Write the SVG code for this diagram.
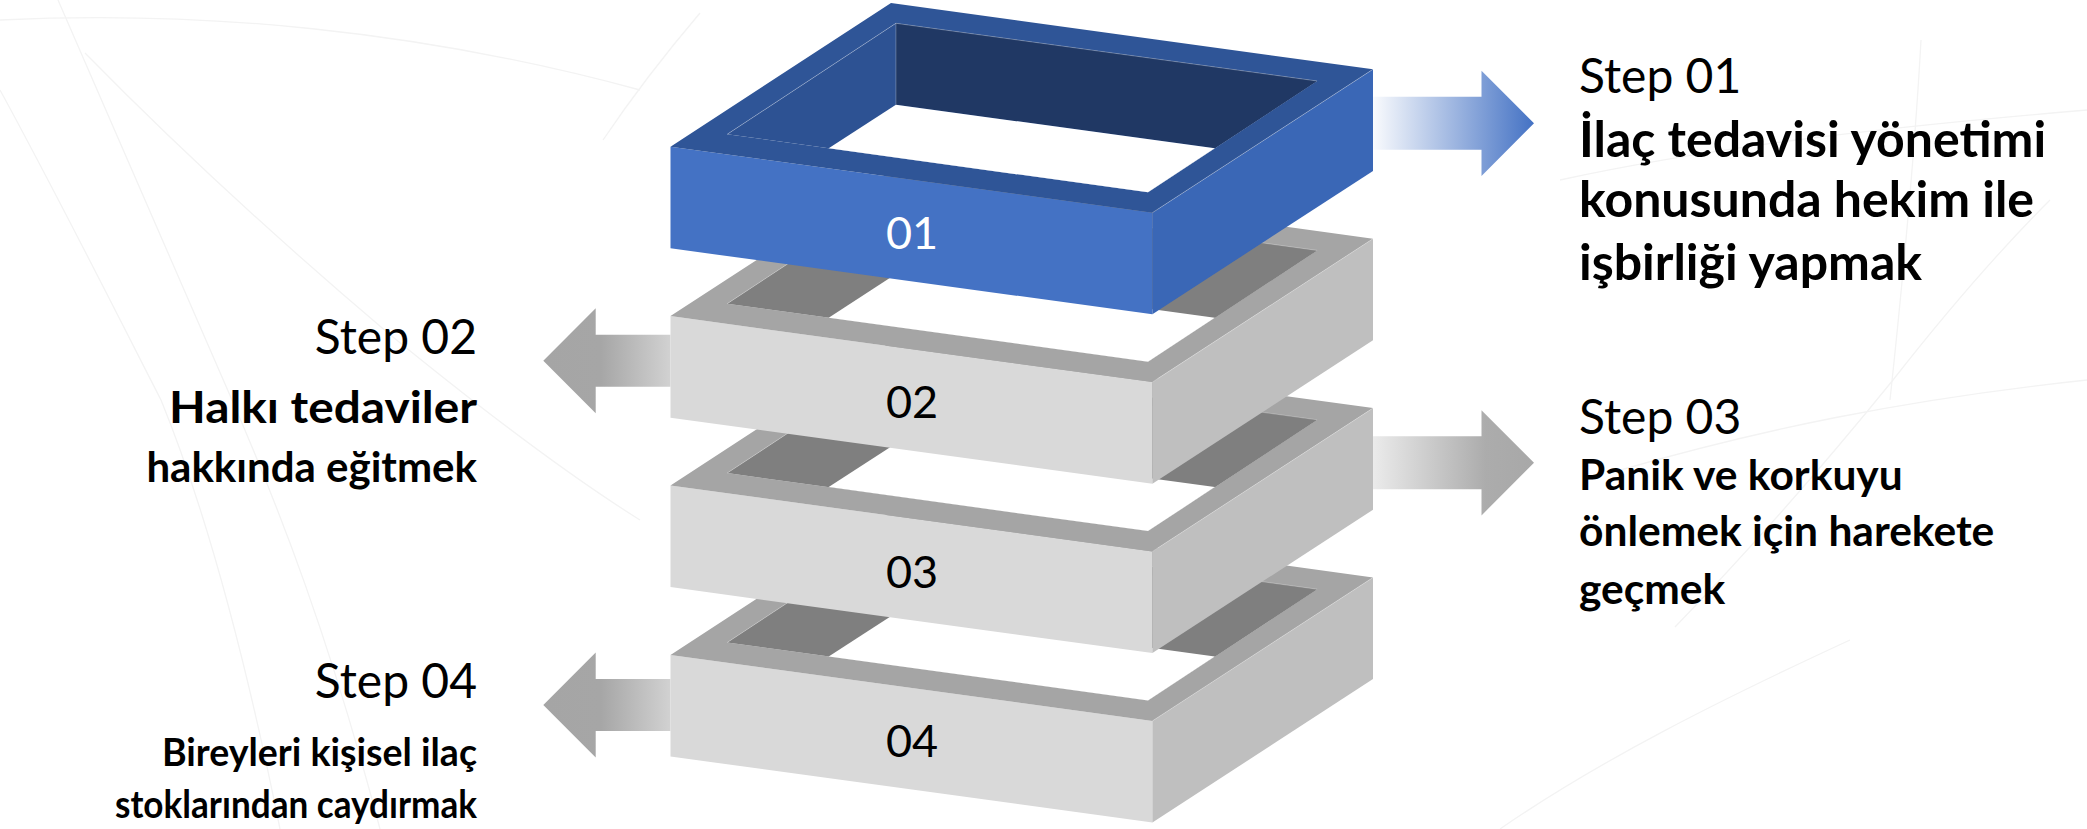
<svg xmlns="http://www.w3.org/2000/svg" width="2087" height="829" viewBox="0 0 2087 829">
  <style>
    .bgl { fill: none; stroke: #F3F3F3; stroke-width: 1.3; }
    .txt { font-family: Lato, "Liberation Sans", sans-serif; fill: #000000; }
    .step { font-size: 48px; font-weight: 400; }
    .b1 { font-size: 50px; font-weight: 700; }
    .b2 { font-size: 42px; font-weight: 700; }
    .b3 { font-size: 42.5px; font-weight: 700; }
    .b4 { font-size: 37.5px; font-weight: 700; }
    .end { text-anchor: end; }
    .num { font-family: Lato, "Liberation Sans", sans-serif; font-size: 45px; text-anchor: middle; }
    .blue .front { fill: #4472C4; }
    .blue .side { fill: #3A67B6; }
    .blue .rim { fill: #2F5597; }
    .blue .wall { fill: #2D5293; }
    .blue .back { fill: #203864; }
    .blue .num { fill: #FFFFFF; }
    .gray .front { fill: #D9D9D9; }
    .gray .side { fill: #BFBFBF; }
    .gray .rim { fill: #A5A5A5; }
    .gray .wall { fill: #7F7F7F; }
    .gray .back { fill: #7F7F7F; }
    .gray .num { fill: #000000; }
    .floor { fill: #FFFFFF; }
    .hl { fill: none; stroke: #FFFFFF; stroke-opacity: 0.35; stroke-width: 0.8; }
  </style>
  <defs>
    <linearGradient id="gBlue" gradientUnits="userSpaceOnUse" x1="1373" y1="0" x2="1534" y2="0">
      <stop offset="0" stop-color="#4472C4" stop-opacity="0.03"/>
      <stop offset="1" stop-color="#4472C4" stop-opacity="1"/>
    </linearGradient>
    <linearGradient id="gGrayR" gradientUnits="userSpaceOnUse" x1="1373" y1="0" x2="1534" y2="0">
      <stop offset="0" stop-color="#EBEBEB"/>
      <stop offset="0.7" stop-color="#ACACAC"/>
      <stop offset="1" stop-color="#A8A8A8"/>
    </linearGradient>
    <linearGradient id="gGrayL" gradientUnits="userSpaceOnUse" x1="543" y1="0" x2="671" y2="0">
      <stop offset="0" stop-color="#A5A5A5"/>
      <stop offset="0.45" stop-color="#A6A6A6"/>
      <stop offset="1" stop-color="#D2D2D2"/>
    </linearGradient>
  </defs>

  <rect x="0" y="0" width="2087" height="829" fill="#FFFFFF"/>

  <g id="background">
    <path class="bgl" d="M58,0 C110,120 170,260 232,400 C280,510 330,640 380,829"/>
    <path class="bgl" d="M0,90 C60,200 120,320 161,400 C210,520 250,680 280,829"/>
    <path class="bgl" d="M85,53 C180,150 290,250 388,333 C470,400 560,470 640,520"/>
    <path class="bgl" d="M700,13 C660,60 630,100 603,140"/>
    <path class="bgl" d="M0,20 C200,10 420,30 640,90"/>
    <path class="bgl" d="M1560,180 C1700,150 1850,130 2087,110"/>
    <path class="bgl" d="M1675,627 C1740,560 1820,470 1893,380 C1940,320 1990,260 2050,200"/>
    <path class="bgl" d="M1921,40 C1915,150 1905,260 1890,400"/>
    <path class="bgl" d="M1620,470 C1760,430 1900,400 2087,380"/>
    <path class="bgl" d="M1500,829 C1600,760 1720,700 1850,640"/>
  </g>

  <g id="connectors">
    <path id="arrow-01" fill="url(#gBlue)" d="M1373,96.8 H1481.5 V70.7 L1534,123.3 L1481.5,175.9 V149.8 H1373 Z"/>
    <path id="arrow-02" fill="url(#gGrayL)" d="M670.5,334.8 H595.7 V308.3 L543.3,360.8 L595.7,413.3 V386.8 H670.5 Z"/>
    <path id="arrow-03" fill="url(#gGrayR)" d="M1373,436.3 H1481.5 V410.2 L1534,462.8 L1481.5,515.4 V489.3 H1373 Z"/>
    <path id="arrow-04" fill="url(#gGrayL)" d="M670.5,679 H595.7 V652.5 L543.3,705 L595.7,757.5 V731 H670.5 Z"/>
  </g>

  <g id="box-04" class="gray" transform="translate(0,508.2)">
    <polygon class="front" points="670.5,146.7 1152.4,212.7 1152.4,314.3 670.5,248.3"/>
    <polygon class="side" points="1152.4,212.7 1373,69.3 1373,170.9 1152.4,314.3"/>
    <path class="rim" fill-rule="evenodd" d="M670.5,146.7 L891,3 L1373,69.3 L1152.4,212.7 Z M727.2,134.3 L895.9,23.3 L1317.1,81 L1148,192.3 Z"/>
    <polygon class="wall" points="727.2,134.3 895.9,23.3 1317.1,81 1148,192.3"/>
    <polygon class="back" points="895.9,23.3 1317.1,81 1214.8,148.3 895.9,104.7"/>
    <polygon class="floor" points="895.9,104.7 1214.8,148.3 1148,192.3 828.7,148.3"/>
    <path class="hl" d="M1152.4,212.7 L1373,69.3 M727.2,134.3 L895.9,23.3 L1317.1,81 M895.9,23.3 V104.7"/>
    <text class="num" x="912" y="249">04</text>
  </g>

  <g id="box-03" class="gray" transform="translate(0,338.8)">
    <polygon class="front" points="670.5,146.7 1152.4,212.7 1152.4,314.3 670.5,248.3"/>
    <polygon class="side" points="1152.4,212.7 1373,69.3 1373,170.9 1152.4,314.3"/>
    <path class="rim" fill-rule="evenodd" d="M670.5,146.7 L891,3 L1373,69.3 L1152.4,212.7 Z M727.2,134.3 L895.9,23.3 L1317.1,81 L1148,192.3 Z"/>
    <polygon class="wall" points="727.2,134.3 895.9,23.3 1317.1,81 1148,192.3"/>
    <polygon class="back" points="895.9,23.3 1317.1,81 1214.8,148.3 895.9,104.7"/>
    <polygon class="floor" points="895.9,104.7 1214.8,148.3 1148,192.3 828.7,148.3"/>
    <path class="hl" d="M1152.4,212.7 L1373,69.3 M727.2,134.3 L895.9,23.3 L1317.1,81 M895.9,23.3 V104.7"/>
    <text class="num" x="912" y="249">03</text>
  </g>

  <g id="box-02" class="gray" transform="translate(0,169.4)">
    <polygon class="front" points="670.5,146.7 1152.4,212.7 1152.4,314.3 670.5,248.3"/>
    <polygon class="side" points="1152.4,212.7 1373,69.3 1373,170.9 1152.4,314.3"/>
    <path class="rim" fill-rule="evenodd" d="M670.5,146.7 L891,3 L1373,69.3 L1152.4,212.7 Z M727.2,134.3 L895.9,23.3 L1317.1,81 L1148,192.3 Z"/>
    <polygon class="wall" points="727.2,134.3 895.9,23.3 1317.1,81 1148,192.3"/>
    <polygon class="back" points="895.9,23.3 1317.1,81 1214.8,148.3 895.9,104.7"/>
    <polygon class="floor" points="895.9,104.7 1214.8,148.3 1148,192.3 828.7,148.3"/>
    <path class="hl" d="M1152.4,212.7 L1373,69.3 M727.2,134.3 L895.9,23.3 L1317.1,81 M895.9,23.3 V104.7"/>
    <text class="num" x="912" y="249">02</text>
  </g>

  <g id="box-01" class="blue">
    <polygon class="front" points="670.5,146.7 1152.4,212.7 1152.4,314.3 670.5,248.3"/>
    <polygon class="side" points="1152.4,212.7 1373,69.3 1373,170.9 1152.4,314.3"/>
    <path class="rim" fill-rule="evenodd" d="M670.5,146.7 L891,3 L1373,69.3 L1152.4,212.7 Z M727.2,134.3 L895.9,23.3 L1317.1,81 L1148,192.3 Z"/>
    <polygon class="wall" points="727.2,134.3 895.9,23.3 1317.1,81 1148,192.3"/>
    <polygon class="back" points="895.9,23.3 1317.1,81 1214.8,148.3 895.9,104.7"/>
    <polygon class="floor" points="895.9,104.7 1214.8,148.3 1148,192.3 828.7,148.3"/>
    <path class="hl" d="M1152.4,212.7 L1373,69.3 M727.2,134.3 L895.9,23.3 L1317.1,81 M895.9,23.3 V104.7"/>
    <text class="num" x="912" y="249">01</text>
  </g>

  <g id="label-01" class="txt">
    <text class="txt step" x="1579" y="93">Step 01</text>
    <text class="txt b1" x="1579" y="157">İlaç tedavisi yönetimi</text>
    <text class="txt b1" x="1579" y="217">konusunda hekim ile</text>
    <text class="txt b1" x="1579" y="280">işbirliği yapmak</text>
  </g>

  <g id="label-02" class="txt">
    <text class="txt step end" x="477" y="354">Step 02</text>
    <text class="txt b2 end" x="477" y="423" style="font-size:44px" textLength="308" lengthAdjust="spacingAndGlyphs">Halkı tedaviler</text>
    <text class="txt b2 end" x="477" y="482">hakkında eğitmek</text>
  </g>

  <g id="label-03" class="txt">
    <text class="txt step" x="1579" y="434">Step 03</text>
    <text class="txt b3" x="1579" y="490">Panik ve korkuyu</text>
    <text class="txt b3" x="1579" y="546">önlemek için harekete</text>
    <text class="txt b3" x="1579" y="604">geçmek</text>
  </g>

  <g id="label-04" class="txt">
    <text class="txt step end" x="477" y="698">Step 04</text>
    <text class="txt b4 end" x="477" y="766">Bireyleri kişisel ilaç</text>
    <text class="txt b4 end" x="477" y="818" textLength="362" lengthAdjust="spacingAndGlyphs">stoklarından caydırmak</text>
  </g>
</svg>
